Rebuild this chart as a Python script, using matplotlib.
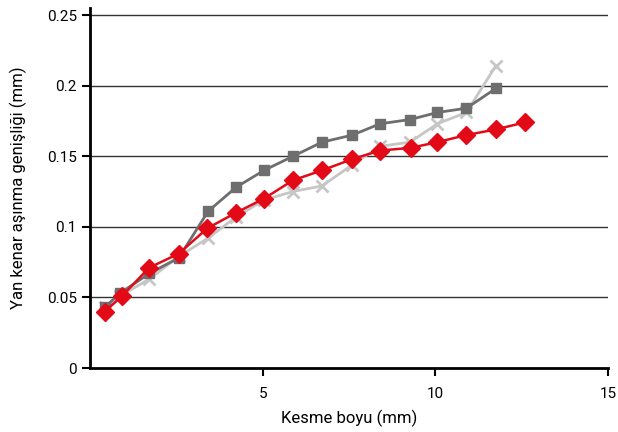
import matplotlib
matplotlib.use("Agg")
import matplotlib.pyplot as plt

plt.rcParams['font.family'] = ['Roboto', 'DejaVu Sans']

x_common = [0.43, 0.87, 1.72, 2.57, 3.42, 4.23, 5.04, 5.88, 6.72, 7.6, 8.4, 9.27, 10.06, 10.9, 11.75]
grey_sq = [0.043, 0.053, 0.067, 0.078, 0.111, 0.128, 0.140, 0.150, 0.160, 0.165, 0.173, 0.176, 0.181, 0.184, 0.198]
light_x = [0.043, 0.051, 0.063, 0.079, 0.092, 0.107, 0.119, 0.125, 0.129, 0.144, 0.157, 0.160, 0.173, 0.181, 0.214]
x_red = [0.43, 0.93, 1.71, 2.57, 3.4, 4.23, 5.04, 5.88, 6.72, 7.6, 8.4, 9.3, 10.06, 10.9, 11.75, 12.6]
red_d = [0.040, 0.051, 0.071, 0.081, 0.099, 0.110, 0.120, 0.133, 0.140, 0.148, 0.154, 0.156, 0.160, 0.165, 0.169, 0.174]

xticks = [5, 10, 15]
yticks = [0, 0.05, 0.1, 0.15, 0.2, 0.25]
ytick_labels = ['0', '0.05', '0.1', '0.15', '0.2', '0.25']

fig = plt.figure(figsize=(6.18, 4.32), dpi=100)
ax = fig.add_axes([90/618, 64/432, 518/618, 360/432])

for y in yticks[1:]:
    ax.axhline(y, color='#333333', lw=1.0, zorder=0)

ax.plot(x_common, light_x, color='#c6c6c6', lw=2, marker='x', markersize=8, mew=2, zorder=2)
ax.plot(x_common, grey_sq, color='#6e6e6e', lw=2, marker='s', markersize=7, zorder=3)
ax.plot(x_red, red_d, color='#e30a17', lw=1.8, marker='D', markersize=9, zorder=4)

ax.set_xlim(0, 15)
ax.set_ylim(0, 0.255)
ax.set_xticks(xticks)
ax.set_yticks(yticks)
ax.set_yticklabels(ytick_labels)
for s in ['top', 'right']:
    ax.spines[s].set_visible(False)
for s in ['left', 'bottom']:
    ax.spines[s].set_linewidth(2)
    ax.spines[s].set_color('black')
ax.tick_params(axis='both', direction='out', length=6, width=1.5, labelsize=11, colors='black')
ax.tick_params(axis='x', pad=8)
ax.set_xlabel('Kesme boyu (mm)', fontsize=12, labelpad=6)
ax.set_ylabel('Yan kenar aşınma genişliği (mm)', fontsize=12, labelpad=14)

fig.savefig('out.png', dpi=100)
